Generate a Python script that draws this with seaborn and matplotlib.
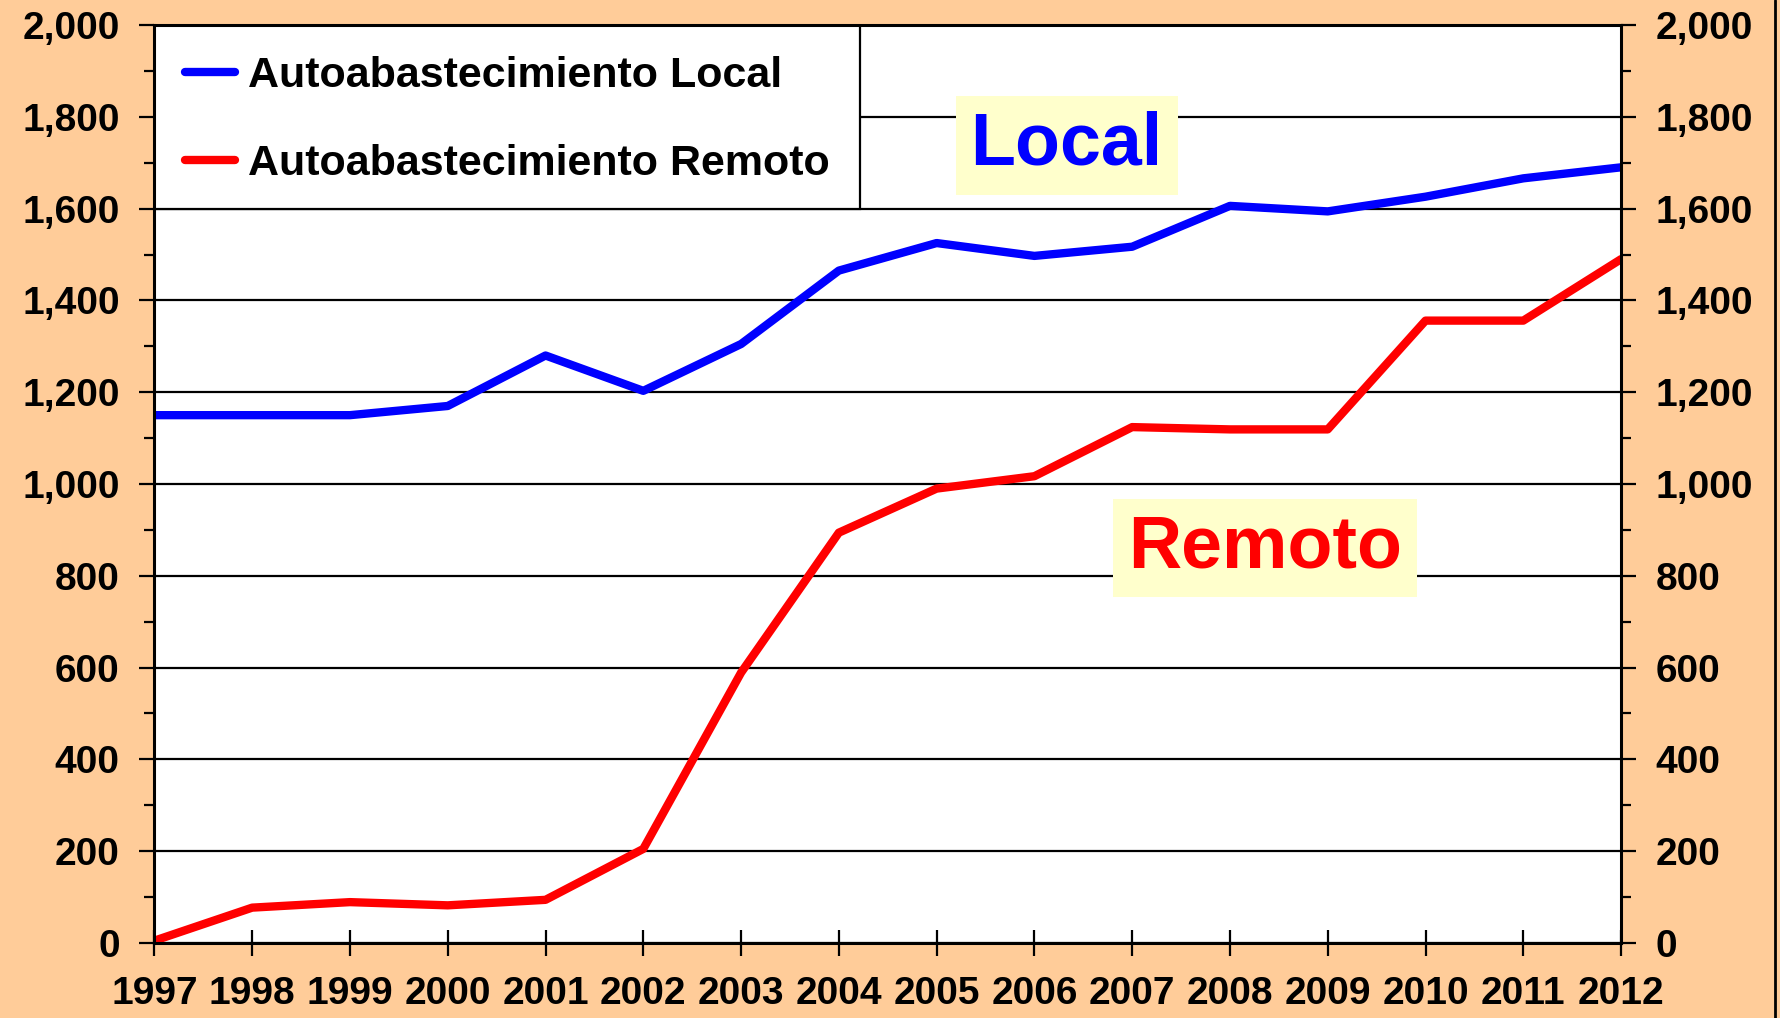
import matplotlib
matplotlib.use("Agg")
import matplotlib.pyplot as plt
import seaborn as sns
import pandas as pd
from matplotlib.ticker import MultipleLocator, FuncFormatter
from matplotlib.patches import Rectangle
from matplotlib.lines import Line2D

years = list(range(1997, 2013))
local = [1150, 1150, 1150, 1170, 1280, 1203, 1305, 1465, 1525, 1497, 1517, 1606, 1594, 1626, 1666, 1690]
remoto = [5, 77, 89, 82, 94, 205, 589, 894, 990, 1017, 1124, 1119, 1119, 1356, 1356, 1490]
series_names = ["Autoabastecimiento Local", "Autoabastecimiento Remoto"]
series_colors = ["#0000FF", "#FF0000"]
y_ticks = list(range(0, 2001, 200))

sns.set_style("white")
plt.rcParams['font.family'] = ['Liberation Sans', 'DejaVu Sans']
plt.rcParams['text.color'] = 'black'
plt.rcParams['xtick.color'] = 'black'
plt.rcParams['ytick.color'] = 'black'
plt.rcParams['axes.labelcolor'] = 'black'

df = pd.DataFrame({
    "Año": years * 2,
    "Valor": local + remoto,
    "Serie": [series_names[0]] * len(years) + [series_names[1]] * len(years),
})

fig = plt.figure(figsize=(17.81, 10.18), dpi=100, facecolor='#FFCC99')
ax = fig.add_axes([0.0867, 0.0737, 0.9102 - 0.0867, 0.9754 - 0.0737])
ax.set_facecolor('white')

sns.lineplot(data=df, x="Año", y="Valor", hue="Serie", palette=series_colors,
             linewidth=6, ax=ax, legend=False, zorder=3)

ax.set_xlim(years[0], years[-1])
ax.set_ylim(y_ticks[0], y_ticks[-1])
ax.set_xlabel("")
ax.set_ylabel("")
ax.set_xticks(years)
ax.set_xticklabels([str(y) for y in years])
ax.set_yticks(y_ticks)
ax.yaxis.set_minor_locator(MultipleLocator(100))
ax.yaxis.set_major_formatter(FuncFormatter(lambda v, p: f"{int(v):,}"))

ax.set_axisbelow(True)
ax.yaxis.grid(True, which='major', color='black', linewidth=1.6)
ax.xaxis.grid(False)

for s in ax.spines.values():
    s.set_color('black')
    s.set_linewidth(2.2)
    s.set_zorder(4)

ax.tick_params(axis='x', which='major', direction='inout', length=19, width=1.6,
               pad=14, labelsize=28, colors='black', bottom=True)
ax.tick_params(axis='y', which='major', direction='out', length=11, width=1.6,
               pad=14, labelsize=28, colors='black',
               left=True, right=True, labelleft=True, labelright=True)
ax.tick_params(axis='y', which='minor', direction='out', length=7, width=1.6,
               colors='black', left=True, right=True)
for lab in ax.get_yticklabels():
    lab.set_fontweight('bold')
    lab.set_color('black')
for lab in ax.get_xticklabels():
    lab.set_fontweight('bold')
    lab.set_color('black')
    lab.set_family(['Liberation Sans Narrow', 'Liberation Sans', 'DejaVu Sans'])

# Legend box
ax.add_patch(Rectangle((0, 0.8), 0.481, 0.2, transform=ax.transAxes,
                       facecolor='white', edgecolor='black', linewidth=1.6, zorder=2.5))
handles = [Line2D([], [], color=c, linewidth=6, solid_capstyle='round') for c in series_colors]
leg = ax.legend(handles, series_names, loc='upper left', bbox_to_anchor=(0.0, 1.0),
                frameon=False, borderaxespad=0, borderpad=0.72, labelspacing=1.12,
                handlelength=1.15, handletextpad=0.3,
                prop=dict(family='Liberation Sans', weight='bold', size=31))
for t in leg.get_texts():
    t.set_color('black')
leg.set_zorder(5)

# Annotation labels
ax.text(2006.33, 1738, "Local", color='#0000FF', fontsize=53, fontweight='bold',
        ha='center', va='center', zorder=5,
        bbox=dict(boxstyle='square,pad=0.2', facecolor='#FFFFCC', edgecolor='none'))
ax.text(2008.36, 860, "Remoto", color='#FF0000', fontsize=53, fontweight='bold',
        ha='center', va='center', zorder=5,
        bbox=dict(boxstyle='square,pad=0.2', facecolor='#FFFFCC', edgecolor='none'))

fig.add_artist(Line2D([0.9968, 0.9968], [0, 1], transform=fig.transFigure,
                      color='black', linewidth=2))

fig.savefig('out.png', dpi=100, facecolor=fig.get_facecolor())
